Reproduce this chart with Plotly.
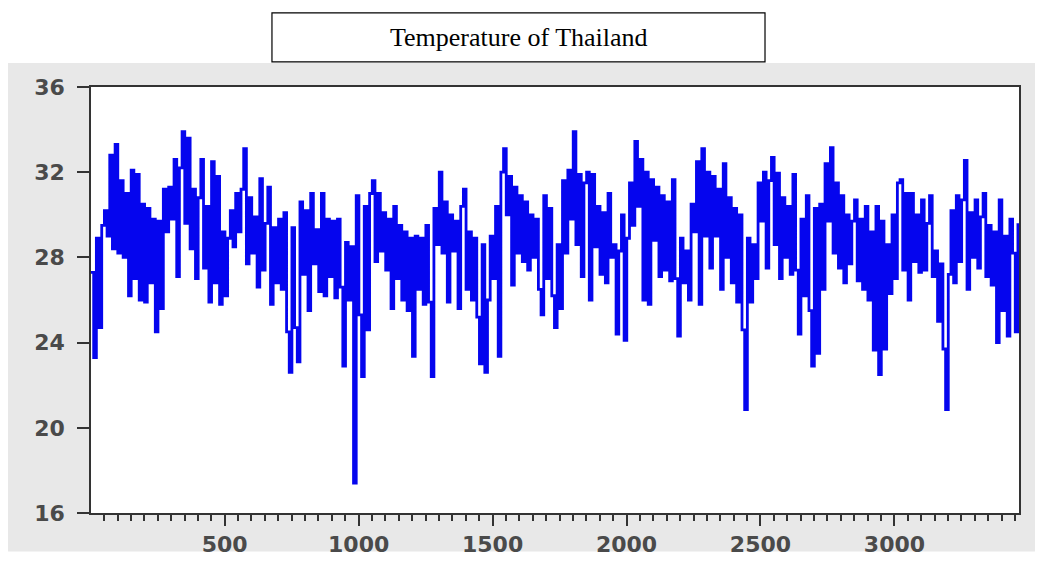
import plotly.graph_objects as go

obs_start, obs_step = 1, 10
temps = [
    27.3, 23.3, 28.9, 24.7, 29.5, 30.2, 29.0, 32.8, 28.4, 33.3,
    28.2, 31.6, 28.0, 31.0, 26.2, 32.1, 27.0, 31.9, 26.0, 30.5,
    25.9, 30.3, 26.8, 29.8, 24.5, 29.7, 25.6, 31.2, 29.2, 31.3,
    29.8, 32.6, 27.1, 32.2, 33.9, 29.6, 33.6, 28.4, 31.2, 27.0,
    30.8, 32.6, 27.5, 30.4, 25.9, 32.5, 26.8, 31.8, 25.8, 29.2,
    26.2, 28.9, 30.2, 28.5, 31.0, 29.2, 31.2, 33.1, 27.7, 30.8,
    28.2, 29.9, 26.6, 31.7, 27.4, 29.6, 31.3, 25.8, 29.4, 26.8,
    29.8, 26.5, 30.1, 24.5, 22.6, 29.4, 24.7, 23.1, 30.6, 27.2,
    30.2, 25.5, 31.0, 27.7, 29.3, 26.4, 31.0, 26.2, 29.8, 27.1,
    29.7, 26.1, 29.8, 26.6, 22.9, 28.7, 26.0, 28.5, 17.4, 30.9,
    25.3, 22.4, 30.4, 24.6, 31.0, 31.6, 27.8, 31.0, 28.3, 30.1,
    27.4, 29.8, 25.6, 30.4, 27.0, 29.5, 26.0, 29.2, 25.5, 28.9,
    23.35, 29.0, 26.5, 28.9, 25.8, 29.5, 25.9, 22.4, 30.3, 28.6,
    32.0, 28.2, 30.6, 25.9, 30.0, 28.3, 29.7, 25.6, 30.4, 31.2,
    26.5, 29.2, 26.0, 28.9, 25.2, 23.0, 28.6, 22.6, 26.0, 29.0,
    27.0, 30.4, 23.35, 32.0, 33.1, 30.0, 31.8, 26.7, 31.3, 28.2,
    30.9, 27.8, 30.6, 27.4, 30.0, 28.0, 29.8, 26.5, 25.3, 30.9,
    27.0, 30.3, 26.2, 24.7, 28.6, 25.6, 31.6, 28.2, 32.1, 29.8,
    33.9, 28.6, 31.9, 27.1, 31.5, 32.0, 26.0, 31.9, 28.5, 30.4,
    27.2, 30.1, 26.8, 31.0, 28.0, 28.6, 24.4, 28.3, 30.0, 24.1,
    28.9, 31.5, 29.5, 33.45, 30.4, 32.6, 26.0, 32.0, 25.8, 31.65,
    28.8, 31.3, 27.1, 30.9, 27.4, 30.6, 26.9, 31.65, 27.0, 24.3,
    28.9, 26.8, 28.3, 26.0, 30.5, 29.2, 32.5, 25.8, 33.1, 29.0,
    32.0, 27.5, 31.8, 29.0, 31.2, 26.5, 32.4, 28.0, 30.8, 26.8,
    30.3, 25.9, 30.0, 24.6, 20.85, 28.9, 25.9, 28.6, 27.0, 31.5,
    29.7, 32.0, 27.5, 31.6, 32.7, 28.6, 31.95, 27.0, 30.8, 28.0,
    30.4, 27.2, 31.9, 27.4, 24.4, 29.8, 26.2, 30.9, 25.5, 22.9,
    30.3, 23.5, 30.5, 26.5, 32.4, 29.7, 33.15, 28.2, 31.5, 27.5,
    30.9, 26.8, 30.0, 27.7, 29.7, 30.7, 26.9, 29.8, 26.5, 30.4,
    26.0, 29.2, 23.65, 30.4, 22.5, 29.7, 23.7, 28.6, 26.3, 30.0,
    27.0, 31.5, 31.65, 27.4, 31.0, 26.0, 31.0, 27.8, 30.0, 27.3,
    30.7, 27.4, 29.6, 30.9, 27.1, 28.3, 25.0, 27.7, 23.7, 20.85,
    27.2, 30.2, 26.8, 30.9, 27.8, 30.7, 32.55, 26.5, 30.1, 28.0,
    30.7, 27.5, 29.9, 31.0, 27.1, 29.5, 26.7, 29.2, 24.0, 30.7,
    25.5, 29.0, 24.3, 29.8, 28.2, 24.5, 29.6,
]
obs = [obs_start + i * obs_step for i in range(len(temps))]

x_ticks = [500, 1000, 1500, 2000, 2500, 3000]
y_ticks = [16, 20, 24, 28, 32, 36]
title_text = "Temperature of Thailand"

fig = go.Figure()
fig.add_trace(go.Scatter(x=obs, y=temps, mode="lines",
                         line=dict(color="#0505ee", width=2.8, shape="hv"),
                         showlegend=False, hoverinfo="skip"))

tick_font = dict(family="DejaVu Sans", size=22, color="#4a4a4a", weight="bold")

fig.update_layout(
    width=1035, height=561,
    margin=dict(l=83, r=24, t=79, b=40),
    paper_bgcolor="white",
    plot_bgcolor="rgba(0,0,0,0)",
    xaxis=dict(range=[1, 3465], tickmode="array", tickvals=x_ticks,
               ticks="outside", ticklen=11, tickwidth=1.5, tickcolor="#333",
               minor=dict(dtick=50, tick0=0, ticks="outside", ticklen=6,
                          tickwidth=1.5, tickcolor="#333", showgrid=False),
               showgrid=False, zeroline=False, showline=True, linecolor="#333",
               linewidth=1.5, mirror=True, tickfont=tick_font),
    yaxis=dict(range=[16, 36], tickmode="array", tickvals=y_ticks,
               ticks="outside", ticklen=12, tickwidth=1.5, tickcolor="#333",
               ticklabelstandoff=8,
               showgrid=False, zeroline=False, showline=True, linecolor="#333",
               linewidth=1.5, mirror=True, tickfont=tick_font),
    shapes=[
        dict(type="rect", xref="paper", yref="paper", x0=-0.0894, x1=1.0172,
             y0=-0.0905, y1=1.0566, fillcolor="#e8e8e8", line=dict(width=0),
             layer="below"),
        dict(type="rect", xref="paper", yref="paper", x0=0, x1=1, y0=0, y1=1,
             fillcolor="white", line=dict(width=0), layer="below"),
        dict(type="rect", xref="paper", yref="paper", x0=0.1950, x1=0.7263,
             y0=1.0588, y1=1.1742, fillcolor="white",
             line=dict(color="black", width=1.2), layer="above"),
    ],
    annotations=[
        dict(text=title_text, xref="paper", yref="paper", x=0.4607, y=1.1165,
             showarrow=False, xanchor="center", yanchor="middle",
             font=dict(family="Liberation Serif", size=26, color="black")),
    ],
)

fig.write_html("out.html")
